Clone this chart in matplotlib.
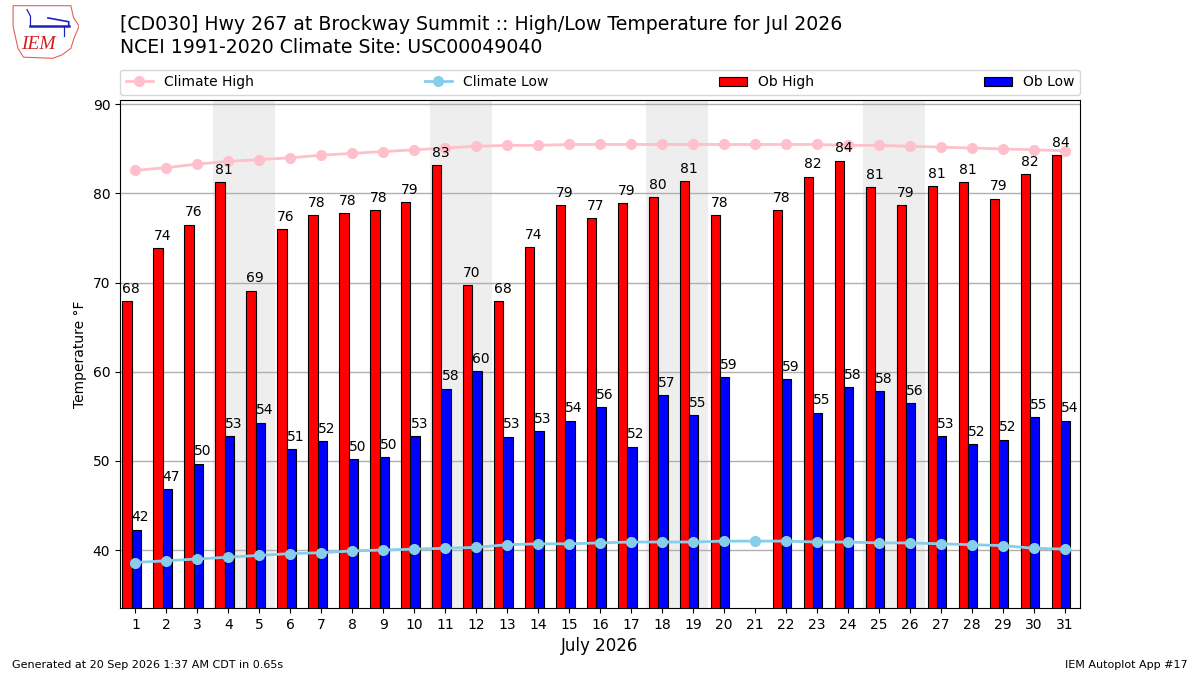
import numpy as np
import matplotlib
matplotlib.use("Agg")
import matplotlib.pyplot as plt
from matplotlib.patches import Polygon

days = list(range(1, 32))
ob_high = [67.9, 73.9, 76.5, 81.3, 69.1, 76.0, 77.6, 77.8, 78.1, 79.0,
           83.2, 69.7, 67.9, 74.0, 78.7, 77.2, 78.9, 79.6, 81.4, 77.6,
           np.nan, 78.1, 81.9, 83.7, 80.7, 78.7, 80.8, 81.3, 79.4, 82.2, 84.3]
ob_low = [42.3, 46.8, 49.7, 52.8, 54.3, 51.3, 52.2, 50.2, 50.4, 52.8,
          58.1, 60.1, 52.7, 53.3, 54.5, 56.0, 51.6, 57.4, 55.1, 59.4,
          np.nan, 59.2, 55.4, 58.3, 57.8, 56.5, 52.8, 51.9, 52.4, 54.9, 54.5]
clim_high = [82.6, 82.9, 83.3, 83.6, 83.8, 84.0, 84.3, 84.5, 84.7, 84.9,
             85.1, 85.3, 85.4, 85.4, 85.5, 85.5, 85.5, 85.5, 85.5, 85.5,
             85.5, 85.5, 85.5, 85.4, 85.4, 85.3, 85.2, 85.1, 85.0, 84.9, 84.8]
clim_low = [38.6, 38.8, 39.0, 39.2, 39.4, 39.6, 39.7, 39.9, 40.0, 40.1,
            40.2, 40.3, 40.6, 40.7, 40.7, 40.8, 40.9, 40.9, 40.9, 41.0,
            41.0, 41.0, 40.9, 40.9, 40.8, 40.8, 40.7, 40.6, 40.5, 40.2, 40.1]
weekends = [4, 11, 18, 25]

title1 = "[CD030] Hwy 267 at Brockway Summit :: High/Low Temperature for Jul 2026"
title2 = "NCEI 1991-2020 Climate Site: USC00049040"
xlabel = "July 2026"
ylabel = "Temperature \u00b0F"
footer_left = "Generated at 20 Sep 2026 1:37 AM CDT in 0.65s"
footer_right = "IEM Autoplot App #17"

fig = plt.figure(figsize=(12, 6.75), dpi=100)
ax = fig.add_axes([0.1, 0.0993, 0.8, 0.7527])

x = np.array(days, dtype=float)
for w in weekends:
    ax.axvspan(w - 0.5, w + 1.5, color="#eeeeee", zorder=0, lw=0)

hb = ax.bar(x - 0.42, ob_high, width=0.3, align="edge", fc="red", ec="black",
            lw=0.8, zorder=3, label="Ob High")
lb = ax.bar(x - 0.12, ob_low, width=0.3, align="edge", fc="blue", ec="black",
            lw=0.8, zorder=3, label="Ob Low")
for xi, v in zip(x, ob_high):
    if not np.isnan(v):
        ax.text(xi - 0.42, v + 0.6, f"{v:.0f}", ha="left", va="bottom", fontsize=10, zorder=5)
for xi, v in zip(x, ob_low):
    if not np.isnan(v):
        ax.text(xi - 0.12, v + 0.6, f"{v:.0f}", ha="left", va="bottom", fontsize=10, zorder=5)

l1, = ax.plot(x, clim_high, color="pink", marker="o", ms=7, lw=2, zorder=4, label="Climate High")
l2, = ax.plot(x, clim_low, color="skyblue", marker="o", ms=7, lw=2, zorder=4, label="Climate Low")

ax.set_xlim(0.5, 31.5)
ax.set_ylim(33.5, 90.5)
ax.set_xticks(days)
ax.set_xticklabels([str(d) for d in days])
ax.set_yticks([40, 50, 60, 70, 80, 90])
ax.yaxis.grid(True, color="#b0b0b0", lw=1)
ax.set_axisbelow(True)
ax.tick_params(labelsize=10)
ax.set_xlabel(xlabel, fontsize=12)
ax.set_ylabel(ylabel, fontsize=10)

ax.legend(handles=[l1, l2, hb, lb], loc="lower left", ncol=4, mode="expand",
          bbox_to_anchor=(0.0, 1.01, 1.0, 0.05), borderaxespad=0, fontsize=10)

fig.text(0.1, 0.964, title1, fontsize=13.6, ha="left", va="center")
fig.text(0.1, 0.929, title2, fontsize=13.6, ha="left", va="center")
fig.text(0.01, 0.015, footer_left, fontsize=8, ha="left", va="center")
fig.text(0.99, 0.015, footer_right, fontsize=8, ha="right", va="center")

# simple IEM logo
lax = fig.add_axes([0.008, 0.912, 0.058, 0.082])
lax.set_xlim(0, 1); lax.set_ylim(0, 1); lax.axis("off")
iowa = [(0.05, 0.97), (0.88, 0.97), (0.92, 0.75), (1.0, 0.6), (0.93, 0.4),
        (0.88, 0.2), (0.75, 0.08), (0.62, 0.02), (0.2, 0.04), (0.12, 0.2), (0.05, 0.6)]
lax.add_patch(Polygon(iowa, closed=True, fill=False, ec="#e06060", lw=0.8))
lax.plot([0.3, 0.85], [0.6, 0.6], color="#2020c0", lw=1.8)
lax.plot([0.3, 0.3, 0.25], [0.6, 0.78, 0.9], color="#2020c0", lw=0.9)
lax.plot([0.55, 0.85, 0.85], [0.75, 0.68, 0.6], color="#2020c0", lw=1.2)
lax.plot([0.78, 0.78], [0.6, 0.42], color="#2020c0", lw=0.9)
lax.text(0.42, 0.27, "IEM", color="#d02020", fontsize=14, style="italic",
         family="Liberation Serif", ha="center", va="center")

fig.savefig("out.png", dpi=100)
